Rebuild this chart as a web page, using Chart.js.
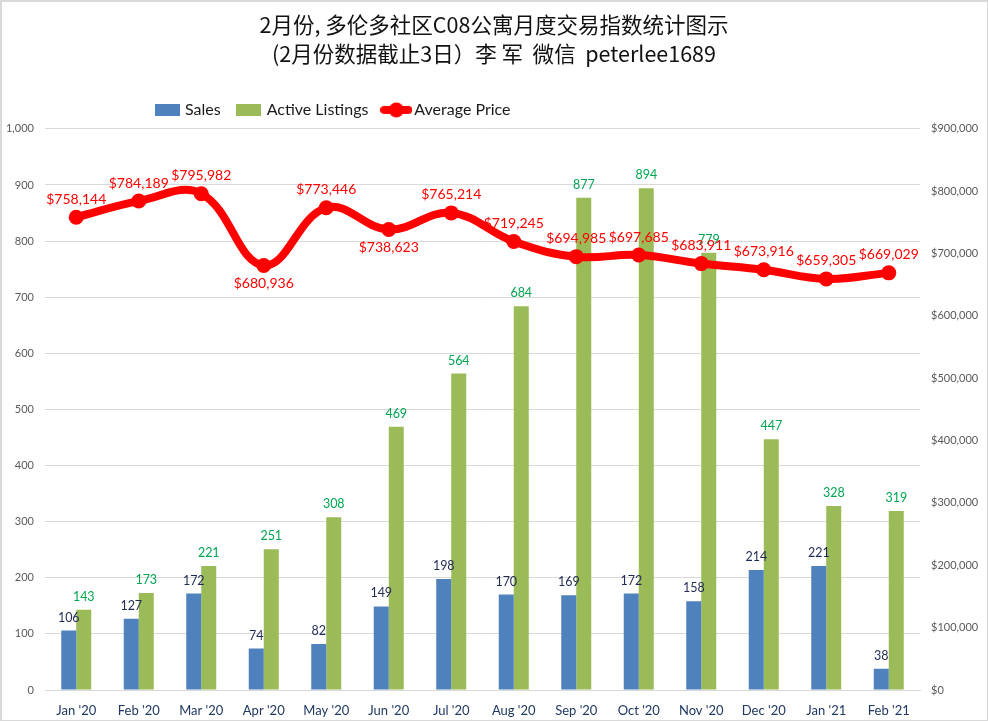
<!DOCTYPE html>
<html><head><meta charset="utf-8">
<script src="https://cdn.jsdelivr.net/npm/chart.js@4"></script>
<style>
html,body{margin:0;padding:0;background:#fff;overflow:hidden}
#wrap{position:relative;width:988px;height:721px}
#wrap:after{content:"";position:absolute;inset:0;border:2px solid #d9d9d9;border-right-width:1px;border-bottom-width:1px;box-sizing:border-box;pointer-events:none}
canvas{display:block}
</style></head>
<body><div id="wrap"><canvas id="c" width="988" height="721"></canvas></div>
<script>
const titleLines = ["2月份, 多伦多社区C08公寓月度交易指数统计图示", "(2月份数据截止3日）李 军  微信  peterlee1689"];
const categories = ["Jan '20","Feb '20","Mar '20","Apr '20","May '20","Jun '20","Jul '20","Aug '20","Sep '20","Oct '20","Nov '20","Dec '20","Jan '21","Feb '21"];
const sales = [106,127,172,74,82,149,198,170,169,172,158,214,221,38];
const activeListings = [143,173,221,251,308,469,564,684,877,894,779,447,328,319];
const averagePrice = [758144,784189,795982,680936,773446,738623,765214,719245,694985,697685,683911,673916,659305,669029];
const priceLabelsBelow = ["Apr '20","Jun '20"];

const FONT = 'Lato, "Noto Sans CJK SC", sans-serif';
const TITLE_FONT = '"Noto Sans CJK SC", sans-serif';

function swatch(color){
  const c=document.createElement('canvas');c.width=25;c.height=12;
  const x=c.getContext('2d');x.fillStyle=color;x.fillRect(0,0,25,12);return c;
}
function lineSwatch(color){
  const c=document.createElement('canvas');c.width=32;c.height=16;
  const x=c.getContext('2d');x.fillStyle=color;
  x.lineCap='round';x.strokeStyle=color;x.lineWidth=8;
  x.beginPath();x.moveTo(4,8);x.lineTo(28,8);x.stroke();
  x.beginPath();x.arc(16,8,7.5,0,Math.PI*2);x.fill();return c;
}
const legendMarks=[swatch('#4f81bd'),swatch('#9bbb59'),lineSwatch('#ff0000')];

const fmt = v => '$' + Number(v).toLocaleString('en-US');

const placeLegend = {
  id:'placeLegend',
  afterLayout(chart){
    const l=chart.legend;
    l.left=139; l.right=l.left+l.width;
    l.top=111.5-9.6-18; l.bottom=l.top+l.height;
  }
};

const valueLabels = {
  id:'valueLabels',
  afterDatasetsDraw(chart){
    const ctx=chart.ctx;
    ctx.save();
    ctx.textAlign='center';ctx.textBaseline='middle';
    const yL=chart.scales.y, yR=chart.scales.yPrice;
    chart.getDatasetMeta(0).data.forEach((b,i)=>{
      ctx.font='12.5px '+FONT;ctx.fillStyle='#1f2a55';
      ctx.fillText(sales[i],b.x,yL.getPixelForValue(sales[i])-13);
    });
    chart.getDatasetMeta(1).data.forEach((b,i)=>{
      ctx.font='12.5px '+FONT;ctx.fillStyle='#00a650';
      ctx.fillText(activeListings[i],b.x,yL.getPixelForValue(activeListings[i])-13);
    });
    chart.getDatasetMeta(2).data.forEach((p,i)=>{
      ctx.font='14px '+FONT;ctx.fillStyle='#ff0000';
      const below=priceLabelsBelow.includes(categories[i]);
      ctx.fillText(fmt(averagePrice[i]),p.x,yR.getPixelForValue(averagePrice[i])+(below?18:-18));
    });
    ctx.restore();
  }
};

new Chart(document.getElementById('c'),{
  type:'bar',
  data:{labels:categories,datasets:[
    {label:'Sales',data:sales,backgroundColor:'#4f81bd',yAxisID:'y',order:2,barPercentage:1,categoryPercentage:0.48},
    {label:'Active Listings',data:activeListings,backgroundColor:'#9bbb59',yAxisID:'y',order:2,barPercentage:1,categoryPercentage:0.48},
    {label:'Average Price',type:'line',data:averagePrice,yAxisID:'yPrice',order:1,borderColor:'#ff0000',backgroundColor:'#ff0000',
     borderWidth:8,tension:0.4,pointRadius:7.5,pointHoverRadius:7.5,pointBackgroundColor:'#ff0000',pointBorderColor:'#ff0000',pointBorderWidth:0,fill:false}
  ]},
  plugins:[placeLegend,valueLabels],
  options:{
    responsive:false,animation:false,devicePixelRatio:1,
    layout:{padding:0},
    plugins:{
      tooltip:{enabled:false},
      title:{display:true,text:titleLines,color:'#111',font:{family:TITLE_FONT,size:21.5,weight:'normal',lineHeight:1.35},padding:{top:10,bottom:16.8}},
      legend:{position:'top',align:'start',labels:{
        usePointStyle:true,pointStyleWidth:20,boxHeight:12,padding:18,color:'#1a1a1a',font:{family:FONT,size:16},
        sort:(a,b)=>a.datasetIndex-b.datasetIndex,
        generateLabels(chart){
          const items=Chart.defaults.plugins.legend.labels.generateLabels(chart);
          items.forEach(it=>{it.pointStyle=legendMarks[it.datasetIndex];});
          return items;
        }
      }}
    },
    scales:{
      x:{grid:{display:false,drawTicks:false},border:{color:'#d9d9d9'},
         ticks:{color:'#1f3864',font:{family:FONT,size:13},padding:13,maxRotation:0,autoSkip:false},
         afterFit(s){s.height=31;}},
      y:{position:'left',min:0,max:1000,
         grid:{color:'#d9d9d9',drawTicks:false},border:{display:false},
         ticks:{stepSize:100,color:'#595959',font:{family:FONT,size:11},padding:11,callback:v=>Number(v).toLocaleString('en-US')},
         afterFit(s){s.width=45;}},
      yPrice:{position:'right',min:0,max:900000,
         grid:{display:false,drawTicks:false},border:{display:false},
         ticks:{stepSize:100000,color:'#595959',font:{family:FONT,size:11},padding:11,callback:v=>fmt(v)},
         afterFit(s){s.width=68;}}
    }
  }
});
</script></body></html>
